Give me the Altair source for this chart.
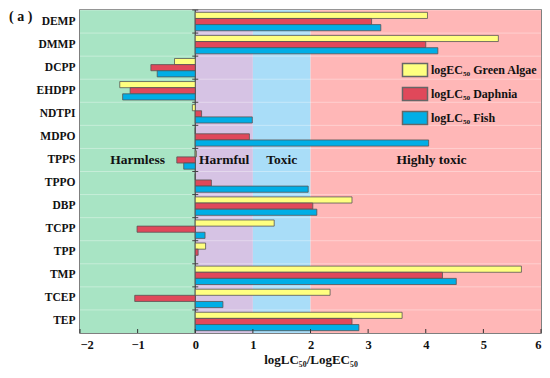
import altair as alt
import pandas as pd

categories = ["DEMP", "DMMP", "DCPP", "EHDPP", "NDTPI", "MDPO", "TPPS",
              "TPPO", "DBP", "TCPP", "TPP", "TMP", "TCEP", "TEP"]
series = ["logEC₅₀ Green Algae", "logLC₅₀ Daphnia", "logLC₅₀ Fish"]
algae = [4.03, 5.26, -0.36, -1.31, -0.05, 0.0, 0.02, 0.0, 2.72, 1.37, 0.18, 5.66, 2.34, 3.59]
daphnia = [3.06, 4.00, -0.77, -1.13, 0.11, 0.94, -0.32, 0.28, 2.04, -1.01, 0.05, 4.29, -1.05, 2.72]
fish = [3.22, 4.21, -0.66, -1.26, 0.99, 4.05, -0.20, 1.96, 2.11, 0.17, 0.0, 4.53, 0.48, 2.84]
bar_colors = ["#FFFF80", "#E0485A", "#00AEE6"]

zone_start = [-2, 0, 1, 2]
zone_end = [0, 1, 2, 6]
zone_colors = ["#A8E4C4", "#D6C3E4", "#A9DDF8", "#FFB7B7"]
zone_labels = ["Harmless", "Harmful", "Toxic", "Highly toxic"]
zone_label_x = [-1.0, 0.5, 1.5, 4.1]
zone_label_row = ["TPPS", "TPPS", "TPPS", "TPPS"]
x_ticks = [-2, -1, 0, 1, 2, 3, 4, 5, 6]

W, H = 461, 323
FONT = "Liberation Serif"

rows = []
for i, c in enumerate(categories):
    for s, vals in zip(series, [algae, daphnia, fish]):
        rows.append({"cat": c, "series": s, "value": vals[i]})
bars_df = pd.DataFrame(rows)
zones_df = pd.DataFrame({"x0": zone_start, "x1": zone_end, "col": zone_colors})
zlab_df = pd.DataFrame({"x": zone_label_x, "cat": zone_label_row, "t": zone_labels})
cat_df = pd.DataFrame({"cat": categories, "zero": [0] * len(categories)})
tick_df = pd.DataFrame({"x": x_ticks})

xscale = alt.Scale(domain=[-2, 6], nice=False)
yscale = alt.Scale(domain=categories, paddingInner=0, paddingOuter=0)

zones = alt.Chart(zones_df).mark_rect().encode(
    x=alt.X("x0:Q", scale=xscale,
            axis=alt.Axis(values=x_ticks, format="d", title="logLC₅₀/LogEC₅₀",
                          labelFont=FONT, labelFontWeight="bold", labelFontSize=12.5,
                          labelColor="#111", titleFont=FONT, titleFontWeight="bold",
                          titleFontSize=13, titleColor="#111", ticks=False,
                          domain=False, grid=False, labelPadding=5, titlePadding=3)),
    x2="x1:Q",
    y=alt.value(0), y2=alt.value(H),
    color=alt.Color("col:N", scale=None),
)

grid = alt.Chart(cat_df).mark_rule(color="white", opacity=0.35, strokeWidth=1).encode(
    y=alt.Y("cat:N", scale=yscale, bandPosition=0,
            axis=alt.Axis(title=None, labelFont=FONT, labelFontWeight="bold",
                          labelFontSize=11.5, labelColor="#111", ticks=False,
                          domain=False, grid=False, labelPadding=5)),
    x=alt.value(0), x2=alt.value(W),
)

zero_line = alt.Chart(pd.DataFrame({"x": [0]})).mark_rule(color="#444", strokeWidth=1.2).encode(
    x=alt.X("x:Q", scale=xscale), y=alt.value(0), y2=alt.value(H)
)

zone_text = alt.Chart(zlab_df).mark_text(font=FONT, fontWeight="bold", fontSize=13.5,
                                         color="#111").encode(
    x=alt.X("x:Q", scale=xscale),
    y=alt.Y("cat:N", scale=yscale),
    text="t:N",
)

bars = alt.Chart(bars_df).mark_bar(stroke="#555", strokeWidth=0.8).encode(
    x=alt.X("value:Q", scale=xscale),
    y=alt.Y("cat:N", scale=yscale),
    yOffset=alt.YOffset("series:N", sort=series,
                        scale=alt.Scale(domain=series, paddingInner=0, paddingOuter=0.38)),
    color=alt.Color("series:N", scale=alt.Scale(domain=series, range=bar_colors),
                    legend=alt.Legend(title=None, orient="none", legendX=328, legendY=53,
                                      symbolType="M-2,-1.04H2V1.04H-2Z", symbolSize=156.25,
                                      symbolStrokeColor="#666", symbolStrokeWidth=1.5,
                                      symbolOpacity=1,
                                      labelFont=FONT, labelFontWeight="bold",
                                      labelFontSize=12, labelColor="#111",
                                      labelOffset=9, rowPadding=4, padding=0)),
)

zero_ticks = alt.Chart(cat_df).mark_point(shape="M-1,0H1", size=36, filled=False,
                                          color="#444", strokeWidth=1, opacity=1).encode(
    x=alt.X("zero:Q", scale=xscale),
    y=alt.Y("cat:N", scale=yscale, bandPosition=0),
)

x_tick_marks = alt.Chart(tick_df).mark_point(shape="M0,-2V0", size=16, filled=False,
                                             color="#333", strokeWidth=1, opacity=1).encode(
    x=alt.X("x:Q", scale=xscale), y=alt.value(H)
)

tag = alt.Chart(pd.DataFrame({"t": ["( a )"]})).mark_text(
    font=FONT, fontWeight="bold", fontSize=14,
    align="left", baseline="middle", color="#111").encode(
    x=alt.value(-71), y=alt.value(7), text="t:N")

chart = alt.layer(zones, grid, zero_line, zone_text, bars, zero_ticks, x_tick_marks, tag).properties(
    width=W, height=H,
    autosize=alt.AutoSizeParams(type="none"),
    padding={"left": 72, "top": 2, "right": 1, "bottom": 37},
).configure_view(stroke="#555", strokeWidth=1.5)

chart.save("out.html", embed_options={"renderer": "svg", "actions": False})
